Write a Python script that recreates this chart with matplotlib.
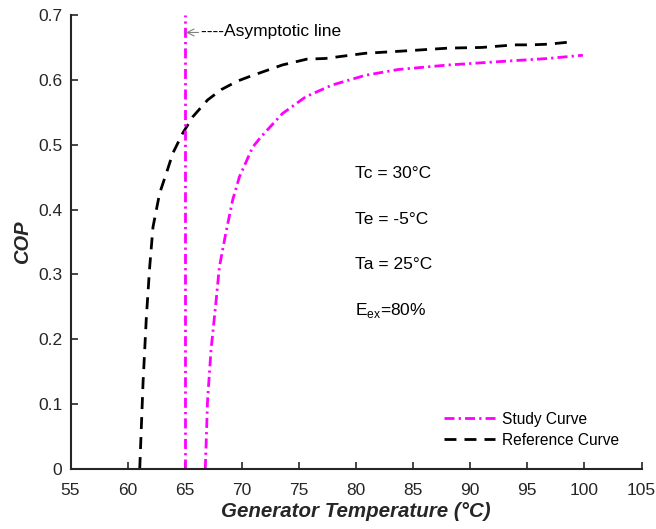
import matplotlib
matplotlib.use("Agg")
import matplotlib.pyplot as plt

plt.rcParams["font.family"] = ["Liberation Sans", "DejaVu Sans"]

# Reference curve (black dashed)
ref_t = [61.06, 61.35, 61.64, 61.93, 62.22, 62.8, 63.39, 63.96, 64.83, 65.7,
         67.0, 68.2, 69.6, 70.65, 73.55, 75.7, 77.3, 80.8, 84.6, 88.1, 91.0,
         93.9, 95.3, 96.8, 99.1]
ref_cop = [0.0, 0.133, 0.234, 0.311, 0.373, 0.425, 0.456, 0.487, 0.518, 0.543,
           0.569, 0.585, 0.598, 0.605, 0.623, 0.632, 0.633, 0.641, 0.645, 0.649,
           0.650, 0.654, 0.654, 0.655, 0.659]

# Study curve (magenta dash-dot)
study_t = [66.8, 67.0, 67.3, 67.75, 68.03, 68.6, 69.2, 69.78, 70.94, 71.67,
           73.55, 75.6, 77.9, 80.8, 83.7, 88.1, 92.4, 96.8, 99.86]
study_cop = [0.0, 0.106, 0.183, 0.26, 0.311, 0.364, 0.415, 0.45, 0.496, 0.512,
             0.548, 0.574, 0.592, 0.607, 0.616, 0.623, 0.628, 0.633, 0.638]

asymptote_t = 65.0

conditions = ["Tc = 30°C", "Te = -5°C", "Ta = 25°C", r"E$_{\mathregular{ex}}$=80%"]
cond_y = [0.456, 0.385, 0.316, 0.245]

fig = plt.figure(figsize=(6.56, 5.29), dpi=100)
ax = fig.add_axes([0.1075, 0.1134, 0.8705, 0.8582])

magenta = "#ff00ff"
dashdot = (0, (3.6, 1.5, 0.8, 1.5))
dashed = (0, (4.3, 2.9))
ax.plot(study_t, study_cop, color=magenta, lw=2, ls=dashdot, label="Study Curve")
ax.plot(ref_t, ref_cop, color="black", lw=2, ls=dashed, label="Reference Curve")
ax.plot([asymptote_t, asymptote_t], [0, 0.7], color=magenta, lw=2, ls=dashdot)

ax.annotate("----Asymptotic line", xy=(65.1, 0.673), xytext=(66.45, 0.674),
            fontsize=12.5, va="center", ha="left",
            arrowprops=dict(arrowstyle="->,head_length=0.4,head_width=0.2",
                            color="gray", lw=0.8, shrinkA=0, shrinkB=0))

for txt, y in zip(conditions, cond_y):
    ax.text(79.9, y, txt, fontsize=12.5, va="center", ha="left")

ax.set_xlim(55, 105)
ax.set_ylim(0, 0.7)
ax.set_xticks(range(55, 106, 5))
ax.set_yticks([0, 0.1, 0.2, 0.3, 0.4, 0.5, 0.6, 0.7])
ax.set_yticklabels(["0", "0.1", "0.2", "0.3", "0.4", "0.5", "0.6", "0.7"])
ax.tick_params(direction="in", labelsize=12.5, colors="#262626", width=1.2,
               length=5)
ax.tick_params(axis="x", pad=10)
ax.tick_params(axis="y", pad=6)
for s in ["top", "right"]:
    ax.spines[s].set_visible(False)
for s in ["left", "bottom"]:
    ax.spines[s].set_linewidth(1.5)
    ax.spines[s].set_color("#262626")

ax.set_xlabel("Generator Temperature (°C)", fontsize=14.8, fontweight="bold",
              fontstyle="italic", color="#262626", labelpad=3)
ax.set_ylabel("COP", fontsize=14.5, fontweight="bold", fontstyle="italic",
              color="#262626", labelpad=4)

ax.legend(loc="lower right", frameon=False, fontsize=11.2,
          bbox_to_anchor=(0.985, 0.016), handlelength=3.3, handletextpad=0.45,
          labelspacing=0.4)

fig.savefig("out.png", dpi=100)
